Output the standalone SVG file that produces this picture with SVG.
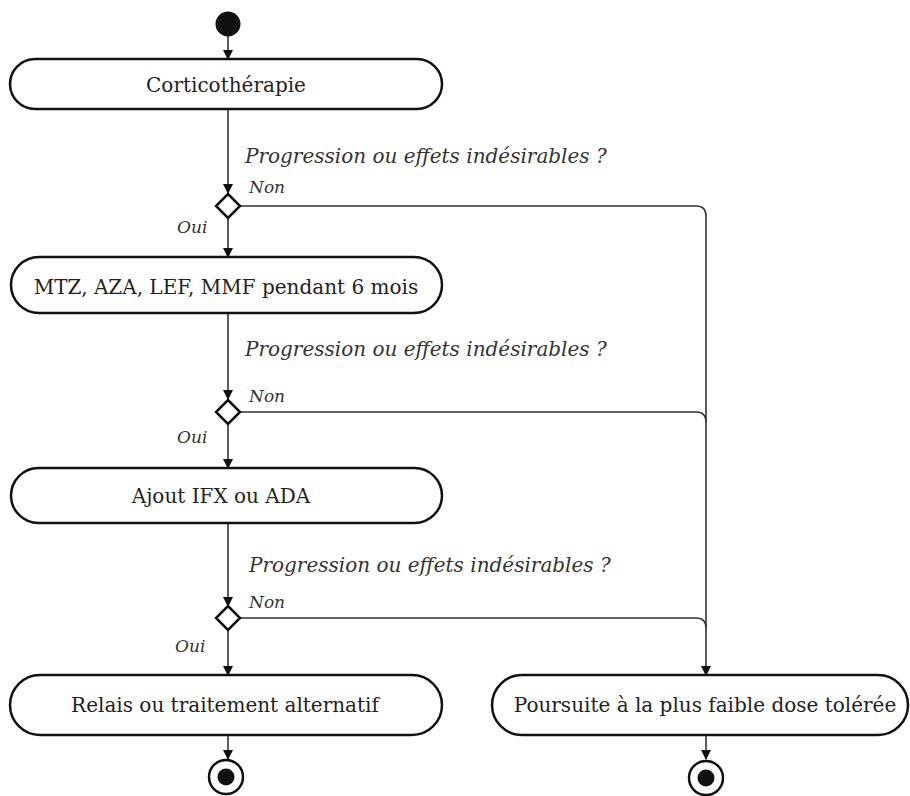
<svg xmlns="http://www.w3.org/2000/svg" width="910" height="796" viewBox="0 0 910 796">
<defs>
<style>
.box{fill:#fff;stroke:#111;stroke-width:2.5}
.lbl{font-family:"DejaVu Serif","Liberation Serif",serif;font-size:20px;fill:#222;text-anchor:middle}
.q{font-family:"DejaVu Serif","Liberation Serif",serif;font-style:italic;font-size:20px;fill:#333}
.s{font-family:"DejaVu Serif","Liberation Serif",serif;font-style:italic;font-size:17px;fill:#333}
.ln{fill:none;stroke:#333;stroke-width:1.6}
.dia{fill:#fff;stroke:#111;stroke-width:2.5}
</style>
<marker id="ah" markerWidth="10" markerHeight="10" refX="9" refY="5" orient="auto" markerUnits="userSpaceOnUse">
<path d="M0,0 L10,5 L0,10 Z" fill="#111"/>
</marker>
</defs>
<rect width="910" height="796" fill="#fff"/>
<g id="connectors">
<line class="ln" x1="228" y1="36" x2="228" y2="59" marker-end="url(#ah)"/>
<line class="ln" x1="228" y1="109" x2="228" y2="193" marker-end="url(#ah)"/>
<line class="ln" x1="228" y1="218" x2="228" y2="257" marker-end="url(#ah)"/>
<line class="ln" x1="228" y1="313" x2="228" y2="399" marker-end="url(#ah)"/>
<line class="ln" x1="228" y1="423" x2="228" y2="468" marker-end="url(#ah)"/>
<line class="ln" x1="228" y1="523" x2="228" y2="606" marker-end="url(#ah)"/>
<line class="ln" x1="228" y1="630" x2="228" y2="675" marker-end="url(#ah)"/>
<line class="ln" x1="228" y1="735" x2="228" y2="759" marker-end="url(#ah)"/>
<path class="ln" d="M240,206 H696 Q706,206 706,216 V675" marker-end="url(#ah)"/>
<path class="ln" d="M240,412 H696 Q706,412 706,422"/>
<path class="ln" d="M240,618 H696 Q706,618 706,628"/>
<line class="ln" x1="706" y1="735" x2="706" y2="759" marker-end="url(#ah)"/>
</g>
<g id="start"><circle cx="228" cy="24" r="12.5" fill="#111"/></g>
<g id="n1">
<rect class="box" x="10" y="59" width="432" height="50" rx="25"/>
<text class="lbl" x="226" y="92">Corticothérapie</text>
</g>
<g id="q1">
<text class="q" x="245" y="163">Progression ou effets indésirables ?</text>
<path class="dia" d="M228,194 L240,206 L228,218 L216,206 Z"/>
<text class="s" x="249" y="193">Non</text>
<text class="s" x="177" y="233">Oui</text>
</g>
<g id="n2">
<rect class="box" x="11" y="257" width="431" height="56" rx="28"/>
<text class="lbl" x="226" y="294">MTZ, AZA, LEF, MMF pendant 6 mois</text>
</g>
<g id="q2">
<text class="q" x="245" y="356">Progression ou effets indésirables ?</text>
<path class="dia" d="M228,400 L240,412 L228,424 L216,412 Z"/>
<text class="s" x="249" y="402">Non</text>
<text class="s" x="177" y="443">Oui</text>
</g>
<g id="n3">
<rect class="box" x="11" y="468" width="431" height="55" rx="27.5"/>
<text class="lbl" x="221" y="503">Ajout IFX ou ADA</text>
</g>
<g id="q3">
<text class="q" x="249" y="572">Progression ou effets indésirables ?</text>
<path class="dia" d="M228,606 L240,618 L228,630 L216,618 Z"/>
<text class="s" x="249" y="608">Non</text>
<text class="s" x="175" y="652">Oui</text>
</g>
<g id="n4">
<rect class="box" x="10" y="675" width="432" height="60" rx="30"/>
<text class="lbl" x="225" y="712">Relais ou traitement alternatif</text>
</g>
<g id="n5">
<rect class="box" x="492" y="675" width="416" height="60" rx="30"/>
<text class="lbl" x="705" y="712">Poursuite à la plus faible dose tolérée</text>
</g>
<g id="end1">
<circle cx="226" cy="777" r="17" fill="#fff" stroke="#111" stroke-width="2.5"/>
<circle cx="226" cy="777" r="8.5" fill="#111"/>
</g>
<g id="end2">
<circle cx="706" cy="778" r="17" fill="#fff" stroke="#111" stroke-width="2.5"/>
<circle cx="706" cy="778" r="8.5" fill="#111"/>
</g>
</svg>
